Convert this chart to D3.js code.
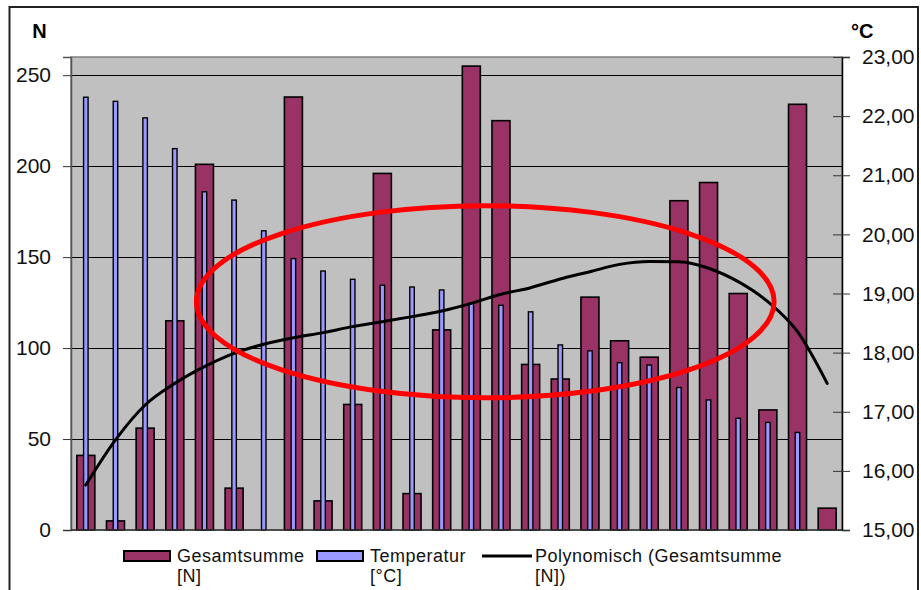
<!DOCTYPE html>
<html>
<head>
<meta charset="utf-8">
<script src="https://cdn.jsdelivr.net/npm/d3@7"></script>
<style>
  html, body { margin: 0; padding: 0; background: #fff; }
  svg { display: block; font-family: "Liberation Sans", Arial, sans-serif; }
</style>
</head>
<body>
<svg id="chart" width="921" height="590"></svg>
<script>
// Messreihe: 26 Zeitpunkte
const categories = d3.range(1, 27).map(String);

// Gesamtsumme [N] (linke Achse); 0 = kein Balken
const gesamtsumme = [41, 5, 56, 115, 201, 23, 0, 238, 16, 69, 196, 20, 110,
                     255, 225, 91, 83, 128, 104, 95, 181, 191, 130, 66, 234, 12];

// Temperatur [°C] (rechte Achse); null = kein Messwert
const temperatur = [22.32, 22.25, 21.97, 21.45, 20.72, 20.58, 20.06, 19.59, 19.38,
                    19.24, 19.14, 19.11, 19.06, 18.84, 18.80, 18.69, 18.13, 18.03,
                    17.83, 17.79, 17.41, 17.20, 16.89, 16.82, 16.65, null];

// Polynomische Trendlinie der Gesamtsumme [N]
const trend = [24.7, 49.5, 68.7, 80.6, 89.8, 97.1, 102.1, 105.7, 108.5, 111.8,
               114.5, 117.3, 120.4, 124.6, 129.6, 133.2, 138, 142, 146, 147.6,
               147.4, 143.9, 136.5, 125.5, 109, 80.6];

// Achsenbeschriftungen
const leftTicks = [0, 50, 100, 150, 200, 250];
const rightTicks = [15, 16, 17, 18, 19, 20, 21, 22, 23];

// Hervorhebung (Kategorie-Index bzw. N-Werte)
const markX = [3.73, 23.21];
const markY = [72.7, 178.3];

const svg = d3.select("#chart");
const plot = { left: 71, right: 842, top: 57, bottom: 530 };

const x = d3.scaleBand().domain(categories).range([plot.left, plot.right]).padding(0);
const xi = d3.scaleLinear().domain([-0.5, categories.length - 0.5]).range([plot.left, plot.right]);
const yL = d3.scaleLinear().domain([0, 260]).range([plot.bottom, plot.top]);
const yR = d3.scaleLinear().domain([15, 23]).range([plot.bottom, plot.top]);

const de = d3.formatLocale({ decimal: ",", thousands: ".", grouping: [3], currency: ["", " €"] });
const fmtR = de.format(".2f");

// Rahmen des Diagramms
svg.append("rect")
  .attr("x", 9.5).attr("y", 7).attr("width", 908.5).attr("height", 620)
  .attr("fill", "#fff").attr("stroke", "#222").attr("stroke-width", 2);

// Zeichenfläche
svg.append("rect")
  .attr("x", plot.left).attr("y", plot.top)
  .attr("width", plot.right - plot.left).attr("height", plot.bottom - plot.top)
  .attr("fill", "#c0c0c0").attr("stroke", "#808080").attr("stroke-width", 1.5);

// Gitterlinien
svg.append("g").selectAll("line")
  .data(leftTicks.filter(d => d > 0))
  .join("line")
  .attr("x1", plot.left).attr("x2", plot.right)
  .attr("y1", d => Math.round(yL(d)) + 0.5).attr("y2", d => Math.round(yL(d)) + 0.5)
  .attr("stroke", "#000").attr("stroke-width", 1);

// Linke Achse
const axL = svg.append("g")
  .attr("transform", `translate(${plot.left},0)`)
  .call(d3.axisLeft(yL).tickValues(leftTicks).tickSize(8).tickPadding(12).tickFormat(d3.format("d")));
axL.select(".domain").attr("stroke", "#555").attr("stroke-width", 1.5);
axL.selectAll(".tick line").attr("stroke", "#333");
axL.selectAll("text").attr("font-size", 21).attr("fill", "#111")
  .attr("font-family", "'Liberation Sans', Arial, sans-serif");

// Balken Gesamtsumme
const wG = 18;
svg.append("g").selectAll("rect")
  .data(categories.map((c, i) => ({ c, v: gesamtsumme[i] })).filter(d => d.v > 0))
  .join("rect")
  .attr("x", d => x(d.c) + x.bandwidth() / 2 - wG / 2)
  .attr("y", d => yL(d.v))
  .attr("width", wG)
  .attr("height", d => yL(0) - yL(d.v))
  .attr("fill", "#993366").attr("stroke", "#000").attr("stroke-width", 1.6);

// Balken Temperatur
const wT = 4.5;
svg.append("g").selectAll("rect")
  .data(categories.map((c, i) => ({ c, v: temperatur[i] })).filter(d => d.v != null))
  .join("rect")
  .attr("x", d => x(d.c) + x.bandwidth() / 2 - wT / 2)
  .attr("y", d => yR(d.v))
  .attr("width", wT)
  .attr("height", d => yR(15) - yR(d.v))
  .attr("fill", "#9999ff").attr("stroke", "#000").attr("stroke-width", 1.4);

// Grundlinie
svg.append("line")
  .attr("x1", plot.left).attr("x2", plot.right)
  .attr("y1", plot.bottom).attr("y2", plot.bottom)
  .attr("stroke", "#333").attr("stroke-width", 1.5);

// Trendlinie
const line = d3.line()
  .x((d, i) => x(categories[i]) + x.bandwidth() / 2)
  .y(d => yL(d))
  .curve(d3.curveMonotoneX);
svg.append("path")
  .datum(trend)
  .attr("d", line)
  .attr("fill", "none").attr("stroke", "#000").attr("stroke-width", 3)
  .attr("stroke-linejoin", "round").attr("stroke-linecap", "round");

// Rechte Achse
const axR = svg.append("g")
  .attr("transform", `translate(${plot.right},0)`)
  .call(d3.axisRight(yR).tickValues(rightTicks).tickSize(8).tickPadding(12).tickFormat(fmtR));
axR.select(".domain").attr("stroke", "#000").attr("stroke-width", 1.5);
axR.selectAll(".tick line").attr("stroke", "#333").attr("x1", -9);
axR.selectAll("text").attr("font-size", 21).attr("fill", "#111")
  .attr("font-family", "'Liberation Sans', Arial, sans-serif");

// Achsentitel
svg.append("text").attr("x", 39.5).attr("y", 38).attr("text-anchor", "middle")
  .attr("font-size", 20).attr("font-weight", "bold").text("N");
svg.append("text").attr("x", 851).attr("y", 38)
  .attr("font-size", 20).attr("font-weight", "bold").text("°C");

// Hervorhebung
svg.append("ellipse")
  .attr("cx", (xi(markX[0]) + xi(markX[1])) / 2)
  .attr("cy", (yL(markY[0]) + yL(markY[1])) / 2)
  .attr("rx", (xi(markX[1]) - xi(markX[0])) / 2)
  .attr("ry", (yL(markY[0]) - yL(markY[1])) / 2)
  .attr("fill", "none").attr("stroke", "#ff0000").attr("stroke-width", 5);

// Legende
const legend = [
  { type: "bar", fill: "#993366", lines: ["Gesamtsumme", "[N]"], x: 124 },
  { type: "bar", fill: "#9999ff", lines: ["Temperatur", "[°C]"], x: 317 },
  { type: "line", lines: ["Polynomisch (Gesamtsumme", "[N])"], x: 482 }
];
const lg = svg.append("g");
legend.forEach(d => {
  if (d.type === "bar") {
    lg.append("rect").attr("x", d.x).attr("y", 551).attr("width", 46).attr("height", 10)
      .attr("fill", d.fill).attr("stroke", "#000").attr("stroke-width", 2);
  } else {
    lg.append("line").attr("x1", d.x).attr("x2", d.x + 50).attr("y1", 556).attr("y2", 556)
      .attr("stroke", "#000").attr("stroke-width", 3);
  }
  const tx = d.x + 53;
  d.lines.forEach((t, k) => {
    lg.append("text").attr("x", tx).attr("y", 562 + k * 20)
      .attr("font-size", 18).attr("letter-spacing", 0.5).attr("fill", "#111").text(t);
  });
});
</script>
</body>
</html>
